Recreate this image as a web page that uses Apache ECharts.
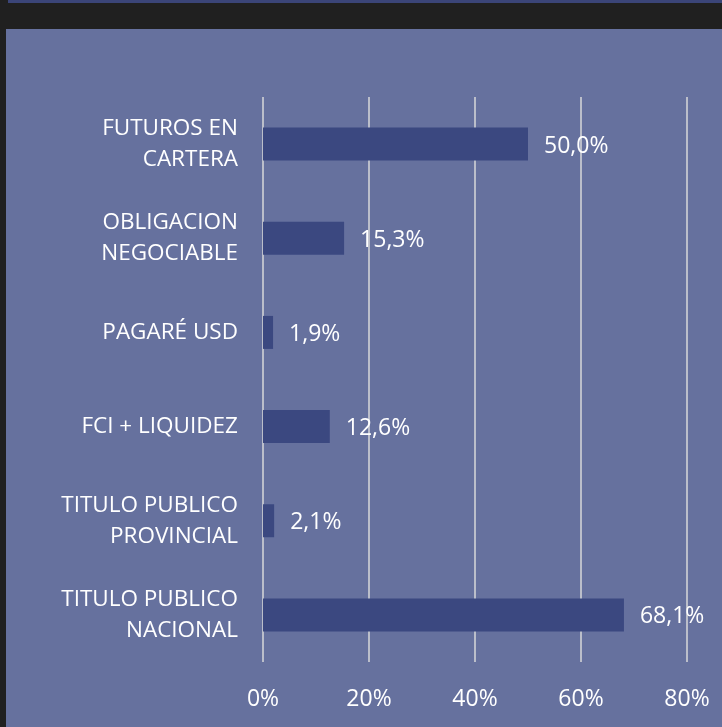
<!DOCTYPE html>
<html>
<head>
<meta charset="utf-8">
<style>
  html, body { margin: 0; padding: 0; background: #202020; }
  #chart { width: 722px; height: 727px; }
</style>
<script src="https://cdn.jsdelivr.net/npm/echarts@6/dist/echarts.min.js"></script>
</head>
<body>
<div id="chart"></div>
<script>
const categories = [
  'FUTUROS EN\nCARTERA',
  'OBLIGACION\nNEGOCIABLE',
  'PAGARÉ USD',
  'FCI + LIQUIDEZ',
  'TITULO PUBLICO\nPROVINCIAL',
  'TITULO PUBLICO\nNACIONAL'
]
const shares = [50.0, 15.3, 1.9, 12.6, 2.1, 68.1]
const xTicks = [0, 20, 40, 60, 80]

const font = '"Open Sans", sans-serif'
const chart = echarts.init(document.getElementById('chart'))

chart.setOption({
  backgroundColor: '#202020',
  graphic: [
    { type: 'rect', z: -10, shape: { x: 8, y: 0, width: 714, height: 3 }, style: { fill: '#3b4578' } },
    { type: 'rect', z: -10, shape: { x: 6, y: 29, width: 716, height: 698 }, style: { fill: '#66719e' } }
  ],
  grid: { left: 263, right: 35, top: 97, bottom: 65 },
  xAxis: {
    type: 'value',
    min: xTicks[0],
    max: xTicks[xTicks.length - 1],
    interval: 20,
    axisLine: { show: false },
    axisTick: { show: false },
    axisLabel: { color: '#ffffff', fontSize: 23, fontFamily: font, margin: 26, formatter: '{value}%' },
    splitLine: { lineStyle: { color: '#d9d9d9', width: 1.5 } }
  },
  yAxis: {
    type: 'category',
    inverse: true,
    data: categories,
    axisLine: { show: false },
    axisTick: { show: false },
    axisLabel: { color: '#ffffff', fontSize: 22.5, fontFamily: font, margin: 25, lineHeight: 31, align: 'right', padding: [4, 0, 0, 0] }
  },
  series: [{
    type: 'bar',
    data: shares,
    barWidth: 33,
    itemStyle: { color: '#3b4880' },
    label: {
      show: true,
      position: 'right',
      distance: 16,
      offset: [0, 2],
      color: '#ffffff',
      fontSize: 23,
      fontFamily: font,
      formatter: p => p.value.toFixed(1).replace('.', ',') + '%'
    }
  }]
})
</script>
</body>
</html>
